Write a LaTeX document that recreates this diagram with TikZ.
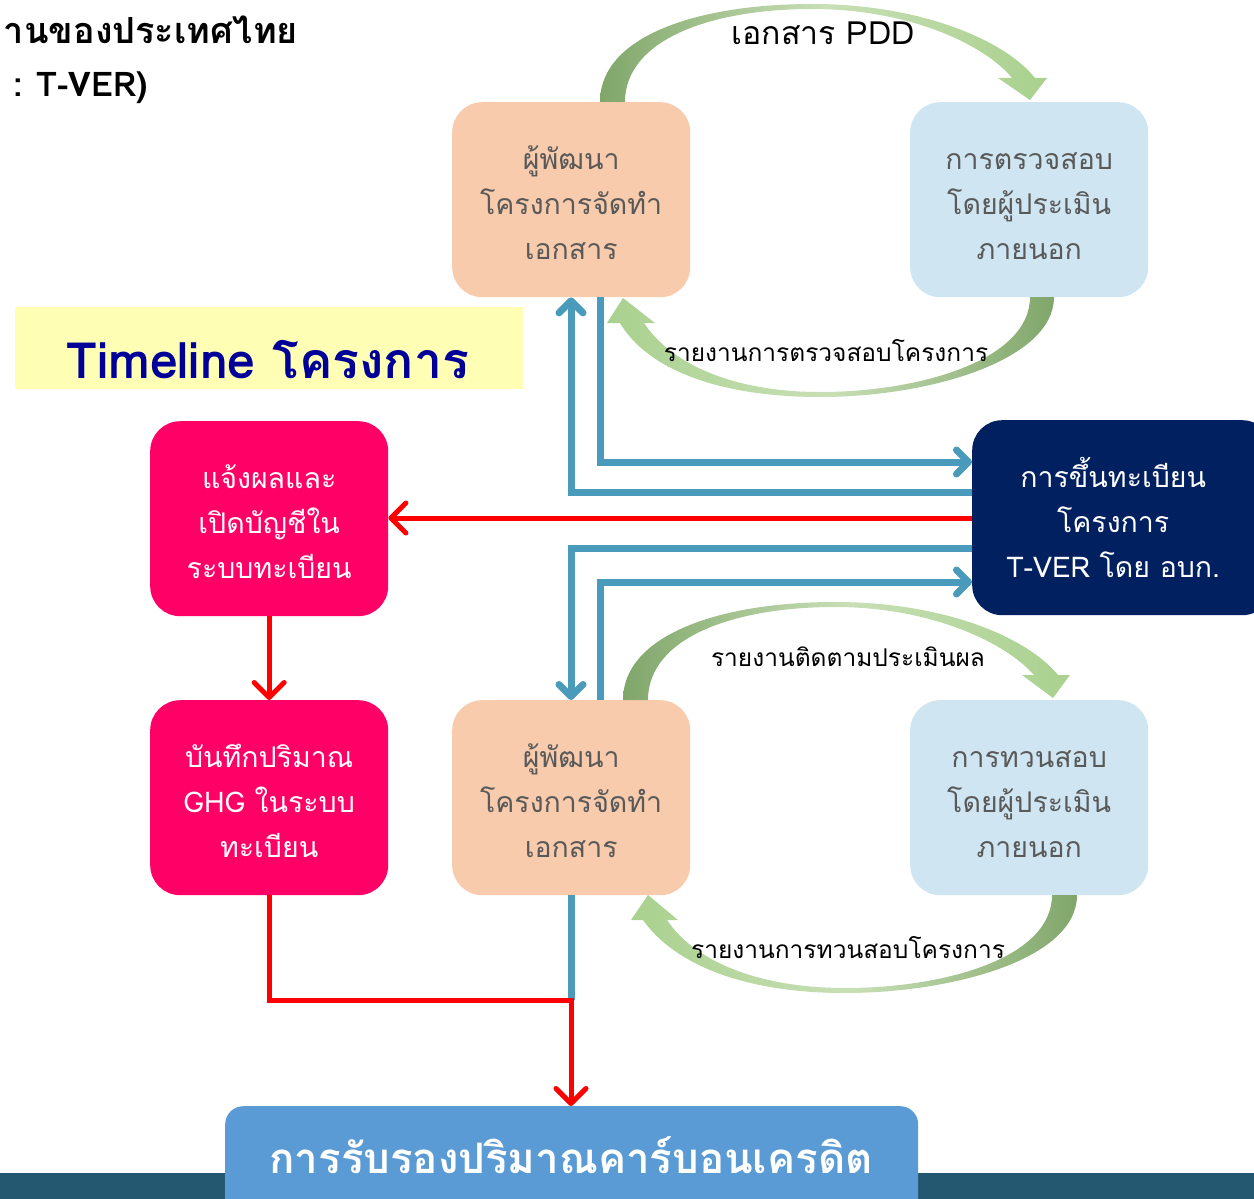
\documentclass[tikz,border=0pt]{standalone}
\usepackage{fontspec}
\setmainfont[Script=Thai]{Loma}
\usetikzlibrary{arrows.meta}
\definecolor{peach}{HTML}{F7CBAC}
\definecolor{lblue}{HTML}{CFE6F2}
\definecolor{navy}{HTML}{002060}
\definecolor{hotpink}{HTML}{FF0066}
\definecolor{certblue}{HTML}{5B9BD5}
\definecolor{barteal}{HTML}{235870}
\definecolor{conblue}{HTML}{4A9BBB}
\definecolor{gdark}{HTML}{80A66A}
\definecolor{glight}{HTML}{A9D18E}
\definecolor{gpale}{HTML}{C8DFB6}
\definecolor{txtgrey}{HTML}{595959}
\definecolor{titleblue}{HTML}{000099}
\definecolor{titlebg}{HTML}{FEFEB4}
\newcommand{\topst}{\rule{0pt}{40pt}}
\newcommand{\botst}{\rule[-11pt]{0pt}{11pt}}
\begin{document}
\begin{tikzpicture}[x=1pt,y=-1pt,
  box/.style={rounded corners=30pt, minimum width=238pt, minimum height=195pt,
    align=center, inner sep=0pt, anchor=north west,
    font=\fontsize{28.5}{45}\selectfont},
  peachbox/.style={box, fill=peach, text=txtgrey},
  bluebox/.style={box, fill=lblue, text=txtgrey},
  pinkbox/.style={box, fill=hotpink, text=white},
  blueline/.style={draw=conblue, line width=7pt},
  redline/.style={draw=red, line width=5pt},
  bluetip/.style={-{Straight Barb[length=12pt,width=24pt,round]}},
  redtip/.style={-{Straight Barb[length=15pt,width=30pt,round]}},
  lbl/.style={font=\fontsize{24.5}{26}\selectfont, text=black, inner sep=0pt}
]
\useasboundingbox (0,0) rectangle (1254,1199);

% header text (cut off at left)
\node[anchor=east, font=\bfseries\fontsize{36}{38}\selectfont, inner sep=0pt] (hdra) at (298,30) {านของประเทศไทย};
\node[anchor=east, font=\bfseries\fontsize{34}{36}\selectfont, inner sep=0pt] (hdrb) at (148,88) {:\hspace{14pt}T-VER)};

% title
\fill[titlebg] (15,307) rectangle (523,389);
\node[anchor=base, inner sep=0pt, text=titleblue, font=\bfseries\fontsize{50}{54}\selectfont] (title) at (268,378) {Timeline โครงการ};

% bottom bar
\fill[barteal] (0,1173) rectangle (1254,1199);

% boxes
\node[peachbox] (dev1) at (452,102) {\topst ผู้พัฒนา\\โครงการจัดทำ\\เอกสาร\botst};
\node[bluebox] (ver1) at (910,102) {\topst การตรวจสอบ\\โดยผู้ประเมิน\\ภายนอก\botst};
\node[box, fill=navy, text=white, minimum width=300pt] (reg) at (972,420) {\topst\hspace*{-18pt}การขึ้นทะเบียน\\\hspace*{-18pt}โครงการ\\\hspace*{-18pt}T-VER โดย อบก.\botst};
\node[pinkbox] (notify) at (150,421) {\topst แจ้งผลและ\\เปิดบัญชีใน\\ระบบทะเบียน\botst};
\node[pinkbox] (record) at (150,700) {\topst บันทึกปริมาณ\\GHG ในระบบ\\ทะเบียน\botst};
\node[peachbox] (dev2) at (452,700) {\topst ผู้พัฒนา\\โครงการจัดทำ\\เอกสาร\botst};
\node[bluebox] (ver2) at (910,700) {\topst การทวนสอบ\\โดยผู้ประเมิน\\ภายนอก\botst};
\node[fill=certblue, rounded corners=18pt, minimum width=693pt, minimum height=130pt,
  anchor=north west, inner sep=0pt] (cert) at (225,1106) {};
\node[anchor=base, inner sep=0pt, text=white, font=\bfseries\fontsize{42}{44}\selectfont]
  (certtext) at (571,1173) {การรับรองปริมาณคาร์บอนเครดิต};

% green curved arrows
\shade[left color=gdark, right color=glight, middle color=gpale]
  (600,102) .. controls (600,35) and (700,4) .. (812,4)
  .. controls (920,4) and (1005,40) .. (1035,78) -- (1047,78) -- (1030,100) -- (998,78) -- (1012,78)
  .. controls (985,45) and (910,9) .. (812,9)
  .. controls (710,9) and (625,40) .. (625,102) -- cycle;
\shade[left color=glight, right color=gdark, middle color=gpale]
  (1054,297) .. controls (1054,360) and (930,397) .. (820,397)
  .. controls (720,397) and (648,370) .. (620,323) -- (607,323) -- (623,298) -- (655,323) -- (644,323)
  .. controls (672,365) and (735,392) .. (820,392)
  .. controls (920,392) and (1030,360) .. (1030,297) -- cycle;
\shade[left color=gdark, right color=glight, middle color=gpale]
  (623,700) .. controls (623,635) and (720,602) .. (835,602)
  .. controls (940,602) and (1025,635) .. (1058,675) -- (1070,675) -- (1053,698) -- (1022,675) -- (1034,675)
  .. controls (1005,642) and (930,607) .. (835,607)
  .. controls (735,607) and (648,637) .. (648,700) -- cycle;
\shade[left color=glight, right color=gdark, middle color=gpale]
  (1077,895) .. controls (1077,960) and (950,993) .. (845,993)
  .. controls (745,993) and (675,965) .. (643,920) -- (631,920) -- (648,895) -- (678,920) -- (667,920)
  .. controls (695,962) and (760,988) .. (845,988)
  .. controls (945,988) and (1052,958) .. (1052,895) -- cycle;

% labels
\node[lbl, font=\fontsize{32}{34}\selectfont] (lpdd) at (823,33) {เอกสาร PDD};
\node[lbl] (lver) at (826,351) {รายงานการตรวจสอบโครงการ};
\node[lbl] (lmon) at (848,657) {รายงานติดตามประเมินผล};
\node[lbl] (lrev) at (848,948) {รายงานการทวนสอบโครงการ};

% blue connectors
\coordinate (j) at (571,1000);
\draw[blueline, bluetip] (600,0 |- dev1.south) |- (reg.west |- 0,462);
\draw[blueline, bluetip] (reg.west |- 0,492) -| (dev1.south -| 571,0);
\draw[blueline, bluetip] (reg.west |- 0,548) -| (dev2.north -| 571,0);
\draw[blueline, bluetip] (600,0 |- dev2.north) |- (reg.west |- 0,582);
\draw[blueline] (dev2.south -| j) -- (j);

% red connectors
\draw[redline, redtip] (reg.west |- 0,518) -- (notify.east |- 0,518);
\draw[redline, redtip] (notify.south) -- (record.north);
\draw[redline, redtip] (record.south) |- (j) -- (j |- cert.north);
\end{tikzpicture}
\end{document}
